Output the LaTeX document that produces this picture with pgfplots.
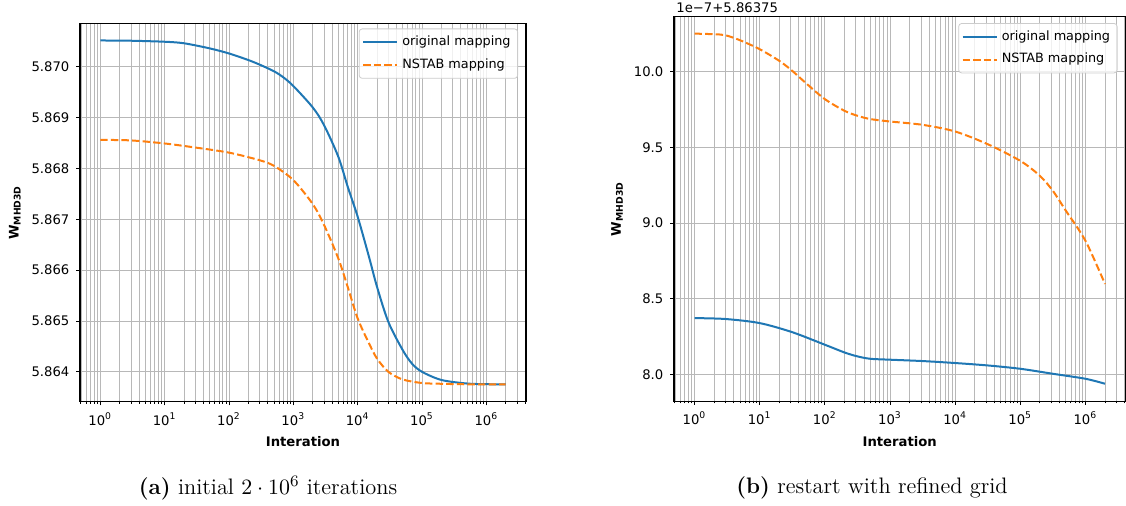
\documentclass[border=0pt]{standalone}
\usepackage{fontspec}
\usepackage{pgfplots}
\pgfplotsset{compat=1.18}
\newfontfamily\dv{DejaVu Sans}
\definecolor{mplblue}{HTML}{1F77B4}
\definecolor{mplorange}{HTML}{FF7F0E}
\definecolor{gridgray}{HTML}{B8B8B8}
\definecolor{legedge}{HTML}{CCCCCC}
\newcommand{\tfont}{\dv\fontsize{6.6}{7.9}\selectfont}
\newcommand{\lfont}{\dv\bfseries\fontsize{6.6}{7.9}\selectfont}
\newcommand{\legfont}{\dv\fontsize{6.4}{7.7}\selectfont}
\newcommand{\decades}{10\textsuperscript{0},10\textsuperscript{1},10\textsuperscript{2},10\textsuperscript{3},10\textsuperscript{4},10\textsuperscript{5},10\textsuperscript{6}}
\tikzset{
  blueline/.style={mplblue, line width=1pt, smooth, mark=none},
  orangeline/.style={mplorange, line width=1pt, dash pattern=on 3.7pt off 1.6pt, smooth, mark=none},
}

\begin{document}
\begin{tikzpicture}
\useasboundingbox (0,0) rectangle (563pt,253pt);

% (a) initial run
\begin{axis}[
  at={(40pt,52.15pt)}, anchor=south west,
  scale only axis, width=223pt, height=189.2pt,
  xmode=log, xmin=0.484, xmax=4.13e6,
  xtick={1,10,100,1000,10000,100000,1000000},
  xticklabels/.expand once={\decades},
  minor xtick={0.5,0.6,0.7,0.8,0.9,2,3,4,5,6,7,8,9,20,30,40,50,60,70,80,90,
    200,300,400,500,600,700,800,900,2000,3000,4000,5000,6000,7000,8000,9000,
    2e4,3e4,4e4,5e4,6e4,7e4,8e4,9e4,2e5,3e5,4e5,5e5,6e5,7e5,8e5,9e5,2e6,3e6,4e6},
  ymin=5.863413, ymax=5.870853,
  ytick={5.864,5.865,5.866,5.867,5.868,5.869,5.870},
  yticklabels={5.864,5.865,5.866,5.867,5.868,5.869,5.870},
  xmajorgrids, xminorgrids, ymajorgrids,
  grid style={gridgray, line width=0.4pt},
  minor grid style={gridgray, line width=0.4pt},
  tick align=outside, tickpos=left,
  major tick length=1.8pt, minor tick length=1.1pt,
  tick style={black, line width=0.45pt},
  axis line style={black, line width=0.6pt},
  tick label style={font=\tfont},
  label style={font=\lfont},
  xlabel={Interation}, ylabel={W\textsubscript{MHD3D}},
  xlabel style={at={(axis description cs:0.5,-0.1065)}, anchor=center},
  ylabel style={at={(axis description cs:-0.146,0.5)}, anchor=center},
  legend cell align=left,
  legend style={at={(1,1)}, anchor=north east, xshift=-4pt, yshift=-2.6pt,
    draw=legedge, rounded corners=1.5pt, fill=white, fill opacity=0.8,
    text opacity=1, font=\legfont, inner sep=1.5pt, row sep=1pt},
]
\addplot[blueline] coordinates {
  (1,5.870515) (3,5.87051) (10,5.87049) (20,5.87046) (50,5.87036)
  (100,5.87026) (200,5.87013) (300,5.87004) (500,5.86991) (700,5.86979) (1000,5.86962)
  (2000,5.86920) (3000,5.86885) (5000,5.86823) (7000,5.86764)
  (10000,5.86705) (15000,5.86626) (20000,5.86567) (30000,5.86498)
  (50000,5.86443) (70000,5.86416) (100000,5.86400) (200000,5.86384)
  (500000,5.86377) (1000000,5.863757) (2000000,5.863751)};
\addlegendentry{original mapping}
\addplot[orangeline] coordinates {
  (1,5.86856) (3,5.86855) (10,5.86849) (30,5.86841) (100,5.86831)
  (300,5.86816) (500,5.86805) (1000,5.86777) (2000,5.86730)
  (3000,5.86689) (5000,5.86623) (7000,5.86567) (10000,5.86505)
  (15000,5.86456) (20000,5.86426) (30000,5.86400) (50000,5.86385)
  (100000,5.86378) (200000,5.863765) (500000,5.863755) (2000000,5.863751)};
\addlegendentry{NSTAB mapping}
\end{axis}

% (b) restart
\begin{axis}[name=R,
  at={(337pt,52.35pt)}, anchor=south west,
  scale only axis, width=225.75pt, height=192.3pt,
  xmode=log, xmin=0.484, xmax=4.13e6,
  xtick={1,10,100,1000,10000,100000,1000000},
  xticklabels/.expand once={\decades},
  minor xtick={0.5,0.6,0.7,0.8,0.9,2,3,4,5,6,7,8,9,20,30,40,50,60,70,80,90,
    200,300,400,500,600,700,800,900,2000,3000,4000,5000,6000,7000,8000,9000,
    2e4,3e4,4e4,5e4,6e4,7e4,8e4,9e4,2e5,3e5,4e5,5e5,6e5,7e5,8e5,9e5,2e6,3e6,4e6},
  ymin=7.822, ymax=10.365,
  ytick={8,8.5,9,9.5,10},
  yticklabels={8.0,8.5,9.0,9.5,10.0},
  xmajorgrids, xminorgrids, ymajorgrids,
  grid style={gridgray, line width=0.4pt},
  minor grid style={gridgray, line width=0.4pt},
  tick align=outside, tickpos=left,
  major tick length=1.8pt, minor tick length=1.1pt,
  tick style={black, line width=0.45pt},
  axis line style={black, line width=0.6pt},
  tick label style={font=\tfont},
  label style={font=\lfont},
  xlabel={Interation}, ylabel={W\textsubscript{MHD3D}},
  xlabel style={at={(axis description cs:0.5,-0.106)}, anchor=center},
  ylabel style={at={(axis description cs:-0.126,0.5)}, anchor=center},
  legend cell align=left,
  legend style={at={(1,1)}, anchor=north east, xshift=-4pt, yshift=-3.2pt,
    draw=legedge, rounded corners=1.5pt, fill=white, fill opacity=0.8,
    text opacity=1, font=\legfont, inner sep=1.5pt, row sep=1pt},
]
\addplot[blueline] coordinates {
  (1,8.372) (3,8.366) (10,8.339) (31.6,8.279) (100,8.196) (200,8.145)
  (316,8.119) (500,8.103) (1000,8.097) (3162,8.088) (10000,8.075)
  (31623,8.059) (100000,8.037) (316228,8.004) (1000000,7.971) (2000000,7.938)};
\addlegendentry{original mapping}
\addplot[orangeline] coordinates {
  (1,10.253) (2,10.249) (3,10.242) (5,10.209) (10,10.150) (20,10.073)
  (31.6,10.007) (50,9.930) (100,9.820) (200,9.743) (316,9.710) (500,9.688)
  (1000,9.672) (3162,9.650) (10000,9.606) (31623,9.522) (100000,9.412)
  (200000,9.313) (316228,9.214) (500000,9.083) (1000000,8.884) (2000000,8.598)};
\addlegendentry{NSTAB mapping}
\end{axis}
\node[anchor=south west, inner sep=0pt, font=\tfont]
  at ([xshift=1pt,yshift=2pt]R.north west) {1e−7+5.86375};

% captions
\node at (134pt,8.8pt) {\fontsize{11.2}{13}\selectfont\textbf{(a)} initial $2\cdot10^6$ iterations};
\node at (436pt,8.8pt) {\fontsize{11.2}{13}\selectfont\textbf{(b)} restart with refined grid};
\end{tikzpicture}
\end{document}
